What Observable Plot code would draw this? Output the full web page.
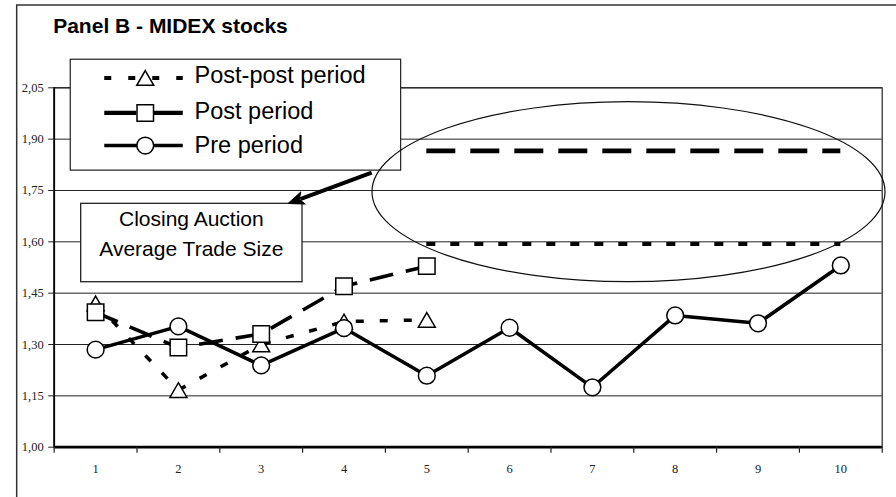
<!DOCTYPE html>
<html><head><meta charset="utf-8">
<script src="https://cdn.jsdelivr.net/npm/d3@7"></script>
<script src="https://cdn.jsdelivr.net/npm/@observablehq/plot@0.6"></script>
<style>
html,body{margin:0;padding:0;background:#fff;overflow:hidden}
#chart svg{display:block}
</style></head><body><div id="chart"></div>
<script>
// ---- data ----
const periods = [1, 2, 3, 4, 5, 6, 7, 8, 9, 10];
const prePeriod = [1.285, 1.353, 1.239, 1.348, 1.209, 1.349, 1.175, 1.385, 1.362, 1.531];
const postPeriod = [1.394, 1.291, 1.331, 1.470, 1.529];
const postPostPeriod = [1.420, 1.167, 1.300, 1.367, 1.372];
const avgPost = 1.866;
const avgPostPost = 1.594;
const avgSpan = [5, 10];
const yTicks = [1.00, 1.15, 1.30, 1.45, 1.60, 1.75, 1.90, 2.05];
const xBoundaries = [0.5, 1.5, 2.5, 3.5, 4.5, 5.5, 6.5, 7.5, 8.5, 9.5, 10.5];
const titleText = "Panel B - MIDEX stocks";
const legendLabels = ["Post-post period", "Post period", "Pre period"];
const noteLines = ["Closing Auction", "Average Trade Size"];

// annotation anchors in data units
const legendBox = {x1: 0.70, x2: 4.69, y1: 1.808, y2: 2.132};
const noteBox = {x1: 0.826, x2: 3.499, y1: 1.482, y2: 1.711};
const ellipseA = {cx: 7.442, cy: 1.745, rx: 3.098, ry: 0.263};
const arrowA = {x1: 4.34, y1: 1.8005, x2: 3.33, y2: 1.7105};

const toRows = (vals) => vals.map((v, i) => ({period: periods[i], value: v}));
const preData = toRows(prePeriod);
const postData = toRows(postPeriod);
const postPostData = toRows(postPostPeriod);

const SANS = "'Liberation Sans', Arial, Helvetica, sans-serif";
const SERIF = "'Liberation Serif', 'Times New Roman', serif";

const R_CIRCLE = 8.4, R_SQUARE = 9.3, R_TRI = 6.3;

const annotate = (index, scales, values, dims) => {
  const X = scales.x, Y = scales.y;
  const g = d3.create("svg:g").attr("text-anchor", "start");
  // outer frame
  g.append("path").attr("d", `M16.7,${dims.height} V5 H${dims.width}`)
    .attr("fill", "none").attr("stroke", "#333").attr("stroke-width", 1.5);
  // title
  g.append("text").attr("x", dims.marginLeft - 0.5).attr("y", 33)
    .attr("text-anchor", "start")
    .attr("font-family", SANS).attr("font-weight", "bold").attr("font-size", 21)
    .attr("fill", "#000").text(titleText);
  // legend box
  const lx = X(legendBox.x1), ly = Y(legendBox.y2);
  const lw = X(legendBox.x2) - lx, lh = Y(legendBox.y1) - ly;
  g.append("rect").attr("x", lx).attr("y", ly).attr("width", lw).attr("height", lh)
    .attr("fill", "white").attr("stroke", "#222").attr("stroke-width", 1.2);
  const rows = [
    {sy: 18.7, ty: 23.7, dash: "7,17", sw: 4, sym: d3.symbolTriangle, r: R_TRI, dy: 2.45},
    {sy: 53.7, ty: 59.7, dash: "32,17", sw: 4.2, sym: d3.symbolSquare, r: R_SQUARE, dy: 0},
    {sy: 86.3, ty: 94, dash: null, sw: 3.5, sym: d3.symbolCircle, r: R_CIRCLE, dy: 0}
  ];
  rows.forEach((row, i) => {
    const line = g.append("line").attr("x1", lx + 34).attr("x2", lx + 112.5)
      .attr("y1", ly + row.sy).attr("y2", ly + row.sy)
      .attr("stroke", "black").attr("stroke-width", row.sw);
    if (row.dash) line.attr("stroke-dasharray", row.dash);
    g.append("path").attr("d", d3.symbol(row.sym, Math.PI * row.r * row.r)())
      .attr("transform", `translate(${lx + 75},${ly + row.sy + row.dy})`)
      .attr("fill", "white").attr("stroke", "black").attr("stroke-width", 1.5);
    g.append("text").attr("x", lx + 124.3).attr("y", ly + row.ty)
      .attr("text-anchor", "start")
      .attr("font-family", SANS).attr("font-size", 23.5).attr("fill", "#000")
      .text(legendLabels[i]);
  });
  // note box
  const nx = X(noteBox.x1), ny = Y(noteBox.y2);
  const nw = X(noteBox.x2) - nx, nh = Y(noteBox.y1) - ny;
  g.append("rect").attr("x", nx).attr("y", ny).attr("width", nw).attr("height", nh)
    .attr("fill", "white").attr("stroke", "#222").attr("stroke-width", 1.3);
  noteLines.forEach((t, i) => {
    g.append("text").attr("x", nx + nw / 2).attr("y", ny + 22.7 + i * 29.7)
      .attr("text-anchor", "middle").attr("font-family", SANS).attr("font-size", 21)
      .attr("fill", "#000").text(t);
  });
  // ellipse
  g.append("ellipse").attr("cx", X(ellipseA.cx)).attr("cy", Y(ellipseA.cy))
    .attr("rx", X(ellipseA.cx + ellipseA.rx) - X(ellipseA.cx))
    .attr("ry", Y(ellipseA.cy - ellipseA.ry) - Y(ellipseA.cy))
    .attr("fill", "none").attr("stroke", "#111").attr("stroke-width", 1.2);
  // arrow
  const ax1 = X(arrowA.x1), ay1 = Y(arrowA.y1), ax2 = X(arrowA.x2), ay2 = Y(arrowA.y2);
  const len = Math.hypot(ax2 - ax1, ay2 - ay1);
  const ux = (ax2 - ax1) / len, uy = (ay2 - ay1) / len;
  const hl = 16, hw = 6.5;
  const bx = ax2 - ux * hl, by = ay2 - uy * hl;
  g.append("line").attr("x1", ax1).attr("y1", ay1).attr("x2", bx + ux * 3).attr("y2", by + uy * 3)
    .attr("stroke", "black").attr("stroke-width", 4);
  g.append("path").attr("d", `M${ax2},${ay2} L${bx - uy * hw},${by + ux * hw} L${bx + ux * 4},${by + uy * 4} L${bx + uy * hw},${by - ux * hw} Z`)
    .attr("fill", "black").attr("stroke", "black").attr("stroke-width", 1).attr("stroke-linejoin", "miter");
  return g.node();
};

const chart = Plot.plot({
  width: 896,
  height: 497,
  marginLeft: 53.7,
  marginRight: 14.3,
  marginTop: 87.3,
  marginBottom: 50.3,
  style: {background: "white", fontFamily: SERIF},
  x: {domain: [0.5, 10.5]},
  y: {domain: [1, 2.05]},
  marks: [
    Plot.gridY(yTicks, {stroke: "#222", strokeOpacity: 1, strokeWidth: 1}),
    Plot.frame({stroke: "#222", strokeWidth: 1.2}),
    Plot.ruleX([0.5], {stroke: "black", strokeWidth: 1.8}),
    Plot.ruleY([1], {stroke: "black", strokeWidth: 2.8}),
    Plot.axisY({ticks: yTicks, tickFormat: d => d.toFixed(2).replace(".", ","), tickSize: 5.5, tickPadding: 5, fontSize: 12.5, fontFamily: SERIF, label: null, stroke: "#222", color: "#222"}),
    Plot.axisX({ticks: periods, tickSize: 0, tickPadding: 17.2, tickFormat: d => String(d), fontSize: 12.5, fontFamily: SERIF, label: null, color: "#222"}),
    Plot.axisX({ticks: xBoundaries, tickSize: 6, tickFormat: () => "", label: null, stroke: "#222", strokeWidth: 1.2}),
    // average lines
    Plot.ruleY([{y: avgPost, x1: avgSpan[0], x2: avgSpan[1]}], {y: "y", x1: "x1", x2: "x2", stroke: "black", strokeWidth: 4.7, strokeDasharray: "29,15"}),
    Plot.ruleY([{y: avgPostPost, x1: avgSpan[0], x2: avgSpan[1]}], {y: "y", x1: "x1", x2: "x2", stroke: "black", strokeWidth: 4, strokeDasharray: "9,15"}),
    // post-post
    Plot.line(postPostData, {x: "period", y: "value", stroke: "black", strokeWidth: 3.5, strokeDasharray: "8,16", strokeLinecap: "butt"}),
    Plot.dot(postPostData, {x: "period", y: "value", symbol: "triangle", r: R_TRI, dy: 2.45, fill: "white", stroke: "black", strokeWidth: 1.5}),
    // post
    Plot.line(postData, {x: "period", y: "value", stroke: "black", strokeWidth: 3.6, strokeDasharray: "24,13", strokeLinecap: "butt"}),
    Plot.dot(postData, {x: "period", y: "value", symbol: "square", r: R_SQUARE, fill: "white", stroke: "black", strokeWidth: 1.5}),
    // pre
    Plot.line(preData, {x: "period", y: "value", stroke: "black", strokeWidth: 3.5}),
    Plot.dot(preData, {x: "period", y: "value", symbol: "circle", r: R_CIRCLE, fill: "white", stroke: "black", strokeWidth: 1.5}),
    annotate
  ]
});
document.getElementById("chart").appendChild(chart);
</script></body></html>
